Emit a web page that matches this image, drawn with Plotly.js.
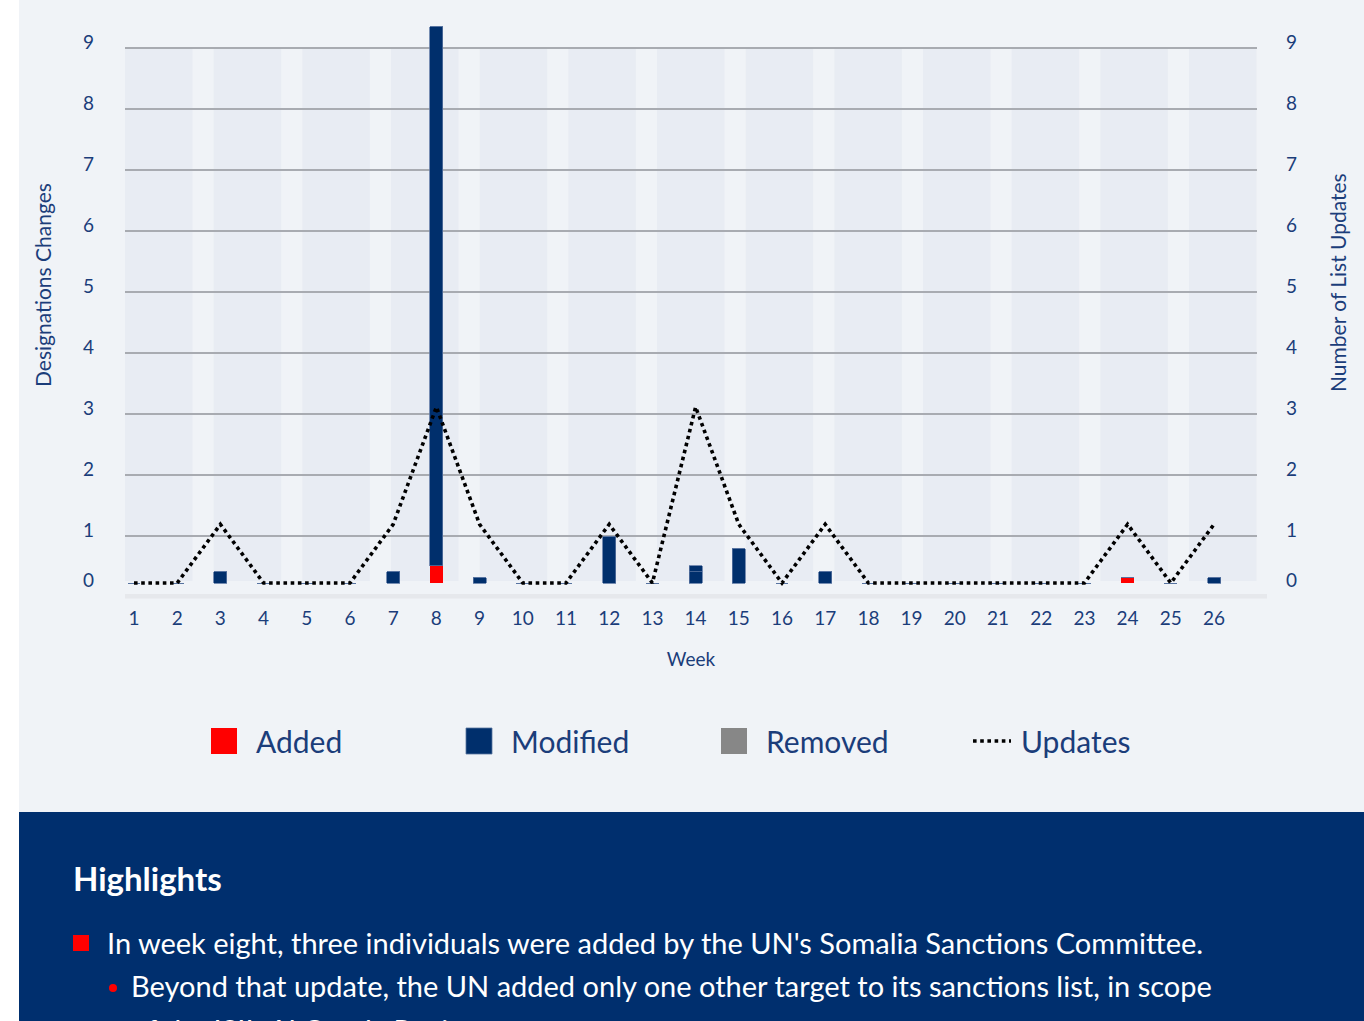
<!DOCTYPE html>
<html><head><meta charset="utf-8">
<script src="https://cdn.plot.ly/plotly-3.0.1.min.js"></script>
<style>html,body{margin:0;padding:0;background:#fff;}</style>
</head><body><div id="chart" style="width:1364px;height:1021px;"></div>
<script>
// ---- data ----
const weeks = [1,2,3,4,5,6,7,8,9,10,11,12,13,14,15,16,17,18,19,20,21,22,23,24,25,26];
const added = [0,0,0,0,0,0,0,3,0,0,0,0,0,0,0,0,0,0,0,0,0,0,0,1,0,0];
const modified = [0,0,2,0,0,0,2,93,1,0,0,8,0,2,6,0,2,0,0,0,0,0,0,0,0,1];
const modifiedExtra = [0,0,0,0,0,0,0,0,0,0,0,0,0,1,0,0,0,0,0,0,0,0,0,0,0,0];
const removed = [0,0,0,0,0,0,0,0,0,0,0,0,0,0,0,0,0,0,0,0,0,0,0,0,0,0];
const updates = [0,0,1,0,0,0,1,3,1,0,0,1,0,3,1,0,1,0,0,0,0,0,0,1,0,1];
const yTickText = ['0','1','2','3','4','5','6','7','8','9'];
const gridVals = [1,2,3,4,5,6,7,8,9];
const labelVals = [0.18,1,2,3,4,5,6,7,8,9];

const NAVY = '#002f6c';
const TXT = '#1b3d7a';
const FONT = 'Lato, "Noto Sans", sans-serif';

// ---- geometry helpers (plot area: x 125..1257, y 20..598) ----
const PL = 125, PR = 1257, PT = 20, PB = 598, W = PR - PL, H = PB - PT;
const px = v => (v - PL) / W;
const py = v => (PB - v) / H;

// empty helper traces so that the grid / label axes get drawn
const axisHolder = ax => ({type:'scatter', mode:'markers', x:[null], y:[null], yaxis:ax,
  showlegend:false, hoverinfo:'skip'});

const traces = [
  axisHolder('y2'), axisHolder('y3'), axisHolder('y4'),
  {type:'bar', name:'Added', x:weeks, y:added, yaxis:'y', width:0.3,
   marker:{color:'#ff0000', line:{width:0}}},
  {type:'bar', name:'Modified', x:weeks, y:modified, yaxis:'y', width:0.3,
   marker:{color:NAVY, line:{color:'#5873a0', width:0.8}}},
  {type:'bar', name:'Modified', x:weeks, y:modifiedExtra, yaxis:'y', width:0.3, showlegend:false,
   marker:{color:NAVY, line:{color:'#5873a0', width:0.8}}},
  {type:'bar', name:'Removed', x:weeks, y:removed, yaxis:'y', width:0.3,
   marker:{color:'#878787', line:{width:0}}},
  {type:'scatter', mode:'lines', name:'Updates', x:weeks, y:updates, yaxis:'y5',
   line:{color:'#000000', width:3.6, dash:'3.6px,3.6px'}}
];

const shapes = [];
shapes.push({type:'rect', xref:'paper', yref:'paper', x0:px(19), x1:px(1364), y0:py(812), y1:py(0),
  fillcolor:'#f0f3f7', line:{width:0}, layer:'below'});
shapes.push({type:'rect', xref:'paper', yref:'paper', x0:px(19), x1:px(1364), y0:py(1021), y1:py(812),
  fillcolor:'#002f6e', line:{width:0}, layer:'below'});
for (let k = 0; k < 13; k++) {
  const a = PL + k * 88.67;
  shapes.push({type:'rect', xref:'paper', yref:'paper', x0:px(a), x1:px(a + 67.5), y0:py(581), y1:py(48),
    fillcolor:'#e8ecf3', line:{width:0}, layer:'below'});
}
shapes.push({type:'rect', xref:'paper', yref:'paper', x0:px(125), x1:px(1267), y0:py(598.5), y1:py(594),
  fillcolor:'#e6e8ec', line:{width:0}, layer:'below'});
shapes.push({type:'rect', xref:'paper', yref:'paper', x0:px(73), x1:px(89), y0:py(951), y1:py(935),
  fillcolor:'#ff0000', line:{width:0}});
shapes.push({type:'circle', xref:'paper', yref:'paper', x0:px(109), x1:px(117), y0:py(992), y1:py(984),
  fillcolor:'#ff0000', line:{width:0}});

const titleFont = {family:FONT, size:21, color:TXT};
const annotations = [
  // axis titles
  {xref:'paper', yref:'paper', x:px(42), y:py(285), xanchor:'center', yanchor:'middle', showarrow:false,
   textangle:-90, text:'Designations Changes', font:titleFont},
  {xref:'paper', yref:'paper', x:px(1337), y:py(283), xanchor:'center', yanchor:'middle', showarrow:false,
   textangle:-90, text:'Number of List Updates', font:titleFont},
  // highlights box
  {xref:'paper', yref:'paper', x:px(71), y:py(878), xanchor:'left', yanchor:'middle', showarrow:false,
   text:'<b>Highlights</b>', font:{family:FONT, size:33, color:'#ffffff'}},
  {xref:'paper', yref:'paper', x:px(105), y:py(942), xanchor:'left', yanchor:'middle', showarrow:false,
   text:"In week eight, three individuals were added by the UN's Somalia Sanctions Committee.",
   font:{family:FONT, size:29, color:'#ffffff'}},
  {xref:'paper', yref:'paper', x:px(129), y:py(985), xanchor:'left', yanchor:'middle', showarrow:false,
   text:'Beyond that update, the UN added only one other target to its sanctions list, in scope',
   font:{family:FONT, size:29, color:'#ffffff'}},
  {xref:'paper', yref:'paper', x:px(129), y:py(1029), xanchor:'left', yanchor:'middle', showarrow:false,
   text:'of the ISIL-Al Qaeda Regime.',
   font:{family:FONT, size:29, color:'#ffffff'}}
];

const axFont = {family:FONT, size:19, color:TXT};

const layout = {
  width:1364, height:1021,
  margin:{l:PL, r:1364-PR, t:PT, b:1021-PB, pad:0},
  paper_bgcolor:'#ffffff', plot_bgcolor:'rgba(0,0,0,0)',
  barmode:'stack', showlegend:true, hovermode:false,
  font:{family:FONT, color:TXT},
  xaxis:{range:[0.792, 26.995], tickmode:'array', tickvals:weeks, ticktext:weeks.map(String),
    showgrid:false, zeroline:false, showline:false, ticks:'', tickfont:axFont,
    ticklabelstandoff:7, automargin:true,
    title:{text:'Week', font:axFont, standoff:24}},
  yaxis:{range:[-2.534, 97.12], visible:false, showgrid:false, zeroline:false, fixedrange:true},
  yaxis2:{overlaying:'y', side:'left', range:[-1/61, 577/61], tickmode:'array', tickvals:gridVals,
    showticklabels:false, ticks:'', showgrid:true, gridcolor:'#a8abb1', gridwidth:1.5,
    zeroline:false, showline:false},
  yaxis3:{overlaying:'y', side:'left', range:[-7/61, 571/61], tickmode:'array', tickvals:labelVals,
    ticktext:yTickText, showgrid:false, zeroline:false, showline:false, ticks:'', tickfont:axFont,
    ticklabelstandoff:30},
  yaxis4:{overlaying:'y', side:'right', range:[-7/61, 571/61], tickmode:'array', tickvals:labelVals,
    ticktext:yTickText, showgrid:false, zeroline:false, showline:false, ticks:'', tickfont:axFont,
    ticklabelstandoff:28},
  yaxis5:{overlaying:'y', side:'right', range:[-15/58.67, 563/58.67], visible:false,
    showgrid:false, zeroline:false},
  legend:{orientation:'h', x:px(192), xanchor:'left', y:py(741), yanchor:'middle',
    font:{family:FONT, size:30, color:TXT}, bgcolor:'rgba(0,0,0,0)',
    itemwidth:54, entrywidth:186, entrywidthmode:'pixels', traceorder:'normal'},
  shapes:shapes, annotations:annotations
};

Plotly.newPlot('chart', traces, layout, {displayModeBar:false, staticPlot:true}).then(gd => {
  gd.querySelectorAll('.legend .legendpoints path').forEach(p => {
    const d = (p.getAttribute('d') || '').replace(/\s/g, '');
    if (d === 'M6,6H-6V-6H6Z') p.setAttribute('d', 'M13,13H-13V-13H13Z');
  });
  gd.querySelectorAll('.legend .legendlines path').forEach(p => {
    const m = (p.getAttribute('d') || '').replace(/\s/g, '').match(/^M(-?[\d.]+),0h([\d.]+)$/);
    if (m) {
      const x0 = parseFloat(m[1]), len = parseFloat(m[2]);
      p.setAttribute('d', 'M' + (x0 + 11) + ',0h' + Math.max(len - 16, 10));
    }
  });
});
</script>
</body></html>
